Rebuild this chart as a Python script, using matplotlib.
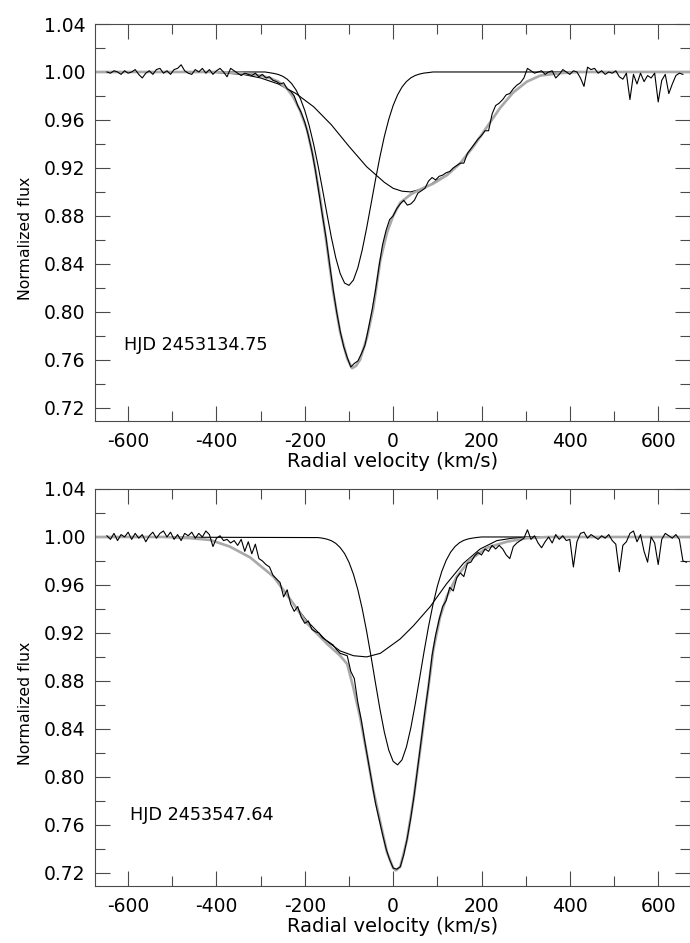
import numpy as np
import matplotlib

matplotlib.use("Agg")
import matplotlib.pyplot as plt
from matplotlib.ticker import MultipleLocator, FormatStrFormatter

# ---- panel 1: HJD 2453134.75 ----
# observed spectrum, sampled every 8 km/s starting at -648 km/s
OBS1_START = -648
OBS1_STEP = 8
OBS1_FLUX = [
    1.000, 0.999, 1.001, 1.000, 0.998, 1.001, 0.999, 1.000,  # -648
    1.002, 0.998, 0.995, 0.999, 1.001, 0.998, 1.002, 1.003,  # -584
    0.999, 1.001, 0.998, 1.002, 1.003, 1.006, 1.001, 0.999,  # -520
    0.998, 1.002, 1.000, 1.003, 0.999, 1.002, 0.998, 1.001,  # -456
    1.003, 1.000, 0.996, 1.003, 1.001, 0.999, 0.997, 0.999,  # -392
    0.998, 0.997, 0.999, 0.996, 0.998, 0.995, 0.996, 0.993,  # -328
    0.992, 0.990, 0.991, 0.986, 0.984, 0.980, 0.972, 0.966,  # -264
    0.958, 0.947, 0.934, 0.918, 0.899, 0.880, 0.862, 0.840,  # -200
    0.819, 0.800, 0.784, 0.771, 0.762, 0.754, 0.757, 0.759,  # -136
    0.765, 0.772, 0.786, 0.801, 0.818, 0.838, 0.856, 0.868,  # -72
    0.877, 0.880, 0.886, 0.890, 0.893, 0.889, 0.890, 0.893,  # -8
    0.899, 0.901, 0.903, 0.909, 0.912, 0.910, 0.913, 0.914,  # 56
    0.916, 0.917, 0.920, 0.922, 0.924, 0.924, 0.932, 0.936,  # 120
    0.940, 0.944, 0.947, 0.951, 0.951, 0.965, 0.972, 0.974,  # 184
    0.977, 0.981, 0.982, 0.986, 0.989, 0.991, 0.995, 1.003,  # 248
    1.001, 0.999, 1.000, 1.001, 0.998, 1.000, 1.001, 0.995,  # 312
    0.998, 1.002, 1.000, 0.998, 1.001, 1.000, 0.995, 0.988,  # 376
    1.004, 1.002, 1.003, 0.999, 1.001, 0.998, 1.000, 0.999,  # 440
    1.001, 0.996, 0.994, 0.999, 0.977, 0.998, 0.990, 0.999,  # 504
    0.992, 0.997, 0.995, 0.999, 0.975, 0.993, 0.998, 0.982,  # 568
    0.990, 0.997, 0.999, 0.998,                              # 632
]

NARROW1_VEL = [-680, -290, -280, -270, -260, -250, -240, -230, -220, -210, -200,
               -190, -180, -170, -160, -150, -140, -130, -120, -110, -100, -90,
               -80, -70, -60, -50, -40, -30, -20, -10, 0, 10, 20, 30, 40, 50,
               60, 70, 80, 90, 680]
NARROW1_FLUX = [1.000, 1.000, 0.9994, 0.9988, 0.9979, 0.9964, 0.9940, 0.9904,
                0.9851, 0.9777, 0.9678, 0.9551, 0.9397, 0.9218, 0.9022, 0.8819,
                0.8623, 0.8452, 0.8320, 0.8240, 0.8221, 0.8265, 0.8367, 0.8517,
                0.8700, 0.8900, 0.9102, 0.9292, 0.9462, 0.9605, 0.9721, 0.9809,
                0.9874, 0.9920, 0.9951, 0.9971, 0.9983, 0.9991, 0.9995, 1.000,
                1.000]

BROAD1_VEL = [-680, -420, -380, -340, -300, -260, -220, -180, -140, -100, -60,
              -20, 0, 20, 40, 60, 80, 100, 122, 152, 182, 212, 242, 272, 303,
              333, 378, 420, 680]
BROAD1_FLUX = [1.000, 1.000, 0.999, 0.998, 0.995, 0.990, 0.982, 0.971, 0.956,
               0.938, 0.921, 0.908, 0.903, 0.9006, 0.900, 0.902, 0.905, 0.910,
               0.914, 0.924, 0.938, 0.954, 0.970, 0.983, 0.992, 0.997, 0.999,
               1.000, 1.000]

FIT1_VEL = [-680, -400, -340, -300, -280, -260, -240, -226, -211, -195, -181,
            -165, -150, -136, -120, -104, -93, -84, -75, -59, -45, -29, -14, 0,
            16, 40, 61, 91, 122, 152, 182, 212, 242, 272, 303, 333, 378, 420, 680]
FIT1_FLUX = [1.000, 1.000, 0.999, 0.997, 0.995, 0.992, 0.986, 0.979, 0.968,
             0.952, 0.929, 0.894, 0.855, 0.817, 0.783, 0.761, 0.753, 0.755,
             0.760, 0.779, 0.803, 0.843, 0.866, 0.880, 0.891, 0.898, 0.902,
             0.907, 0.914, 0.924, 0.938, 0.954, 0.970, 0.983, 0.992, 0.997,
             0.999, 1.000, 1.000]

# ---- panel 2: HJD 2453547.64 ----
OBS2_START = -648
OBS2_STEP = 8
OBS2_FLUX = [
    1.001, 0.998, 1.003, 0.997, 1.002, 1.000, 1.004, 0.998,  # -648
    1.003, 0.999, 1.002, 0.996, 1.001, 1.004, 0.999, 1.003,  # -584
    1.005, 1.000, 1.004, 0.998, 1.002, 0.997, 1.003, 1.001,  # -520
    1.004, 0.999, 1.003, 1.000, 1.005, 1.002, 0.992, 0.999,  # -456
    1.001, 0.997, 0.998, 0.995, 0.997, 0.993, 0.998, 0.988,  # -392
    0.996, 0.986, 0.994, 0.982, 0.980, 0.977, 0.975, 0.968,  # -328
    0.965, 0.962, 0.950, 0.956, 0.944, 0.938, 0.942, 0.933,  # -264
    0.928, 0.930, 0.923, 0.921, 0.920, 0.916, 0.914, 0.912,  # -200
    0.910, 0.906, 0.903, 0.902, 0.901, 0.888, 0.882, 0.862,  # -136
    0.847, 0.829, 0.812, 0.795, 0.778, 0.765, 0.752, 0.740,  # -72
    0.731, 0.724, 0.723, 0.725, 0.735, 0.749, 0.766, 0.786,  # -8
    0.809, 0.832, 0.855, 0.876, 0.901, 0.918, 0.931, 0.942,  # 56
    0.947, 0.958, 0.955, 0.966, 0.970, 0.967, 0.978, 0.979,  # 120
    0.984, 0.987, 0.985, 0.990, 0.988, 0.993, 0.990, 0.993,  # 184
    0.990, 0.985, 0.982, 0.992, 0.995, 0.997, 0.999, 1.006,  # 248
    0.998, 1.001, 0.995, 0.991, 0.996, 1.000, 0.995, 1.002,  # 312
    0.998, 1.001, 0.997, 0.998, 0.975, 0.996, 1.003, 1.004,  # 376
    0.999, 1.002, 1.000, 0.998, 1.001, 0.999, 1.002, 0.997,  # 440
    0.994, 0.971, 0.993, 0.996, 1.003, 1.005, 0.996, 1.002,  # 504
    0.988, 0.979, 1.000, 0.995, 0.977, 0.998, 1.003, 1.001,  # 568
    0.999, 1.002, 0.998, 0.980, 0.979,                       # 632
]

NARROW2_VEL = [-680, -170, -160, -150, -140, -130, -120, -110, -100, -90, -80,
               -70, -60, -50, -40, -30, -20, -10, 0, 10, 20, 30, 40, 50, 60, 70,
               80, 90, 100, 110, 120, 130, 140, 150, 160, 170, 180, 190, 200, 680]
NARROW2_FLUX = [1.000, 0.9995, 0.9990, 0.9982, 0.9969, 0.9947, 0.9912, 0.9862,
                0.9789, 0.9690, 0.9561, 0.9401, 0.9212, 0.9002, 0.8781, 0.8566,
                0.8374, 0.8223, 0.8129, 0.8100, 0.8142, 0.8249, 0.8409, 0.8607,
                0.8825, 0.9045, 0.9252, 0.9435, 0.9589, 0.9712, 0.9805, 0.9873,
                0.9920, 0.9952, 0.9972, 0.9984, 0.9991, 0.9996, 1.000, 1.000]

BROAD2_VEL = [-680, -520, -460, -414, -370, -324, -271, -233, -195, -150, -120,
              -90, -60, -29, 16, 46, 84, 121, 159, 197, 235, 270, 320, 680]
BROAD2_FLUX = [1.000, 1.000, 0.999, 0.9975, 0.992, 0.983, 0.967, 0.948, 0.930,
               0.913, 0.905, 0.901, 0.900, 0.903, 0.915, 0.926, 0.942, 0.961,
               0.978, 0.990, 0.997, 0.999, 1.000, 1.000]

FIT2_VEL = [-680, -520, -460, -414, -370, -324, -271, -233, -195, -150, -120,
            -104, -90, -75, -59, -45, -29, -14, 0, 6, 16, 31, 46, 61, 77, 91,
            106, 121, 144, 174, 212, 257, 303, 350, 680]
FIT2_FLUX = [1.000, 1.000, 0.999, 0.9975, 0.992, 0.983, 0.967, 0.948, 0.928,
             0.911, 0.901, 0.894, 0.874, 0.850, 0.818, 0.789, 0.762, 0.737,
             0.724, 0.722, 0.725, 0.747, 0.781, 0.822, 0.867, 0.906, 0.933,
             0.950, 0.967, 0.981, 0.991, 0.996, 0.999, 1.000, 1.000]

LABELS = ["HJD 2453134.75", "HJD 2453547.64"]
LABEL_POS = [(-609, 0.7725), (-595, 0.768)]

FIT_COLOR = "#a9a9a9"
AXIS_COLOR = "#4a4a4a"


def style_axes(ax):
    ax.set_xlim(-675, 672)
    ax.set_ylim(0.709, 1.04)
    ax.xaxis.set_major_locator(MultipleLocator(200))
    ax.xaxis.set_minor_locator(MultipleLocator(100))
    ax.yaxis.set_major_locator(MultipleLocator(0.04))
    ax.yaxis.set_minor_locator(MultipleLocator(0.02))
    ax.yaxis.set_major_formatter(FormatStrFormatter("%.2f"))
    ax.tick_params(which="both", direction="in", top=True, right=True,
                   color=AXIS_COLOR, width=0.8, labelsize=13.5)
    ax.tick_params(which="major", length=10.8)
    ax.tick_params(which="minor", length=7.5)
    ax.tick_params(axis="x", pad=8)
    ax.tick_params(axis="y", pad=7)
    for spine in ax.spines.values():
        spine.set_color(AXIS_COLOR)
        spine.set_linewidth(0.8)
    ax.set_xlabel("Radial velocity (km/s)", fontsize=14, labelpad=0.5)
    ax.set_ylabel("Normalized flux", fontsize=11.3)
    ax.yaxis.set_label_coords(-0.105, 0.46)


def draw_panel(ax, obs_start, obs_step, obs_flux, narrow, broad, fit, label, pos):
    obs_vel = obs_start + obs_step * np.arange(len(obs_flux))
    ax.plot(narrow[0], narrow[1], color="black", linewidth=0.8)
    ax.plot(broad[0], broad[1], color="black", linewidth=0.8)
    ax.plot(fit[0], fit[1], color=FIT_COLOR, linewidth=1.9)
    ax.plot(obs_vel, obs_flux, color="black", linewidth=0.8)
    ax.text(pos[0], pos[1], label, fontsize=12.7, ha="left", va="center")
    style_axes(ax)


def main() -> None:
    plt.rcParams["font.family"] = ["DejaVu Sans"]
    plt.rcParams["axes.unicode_minus"] = False
    fig = plt.figure(figsize=(6.9, 9.43), dpi=100)
    ax_top = fig.add_axes([95 / 690, 1 - 421 / 943, 595 / 690, 397 / 943])
    ax_bot = fig.add_axes([95 / 690, 1 - 886 / 943, 595 / 690, 397 / 943])

    draw_panel(ax_top, OBS1_START, OBS1_STEP, OBS1_FLUX,
               (NARROW1_VEL, NARROW1_FLUX), (BROAD1_VEL, BROAD1_FLUX),
               (FIT1_VEL, FIT1_FLUX), LABELS[0], LABEL_POS[0])
    draw_panel(ax_bot, OBS2_START, OBS2_STEP, OBS2_FLUX,
               (NARROW2_VEL, NARROW2_FLUX), (BROAD2_VEL, BROAD2_FLUX),
               (FIT2_VEL, FIT2_FLUX), LABELS[1], LABEL_POS[1])

    fig.savefig("out.png", dpi=100)
    plt.close(fig)


if __name__ == "__main__":
    main()
